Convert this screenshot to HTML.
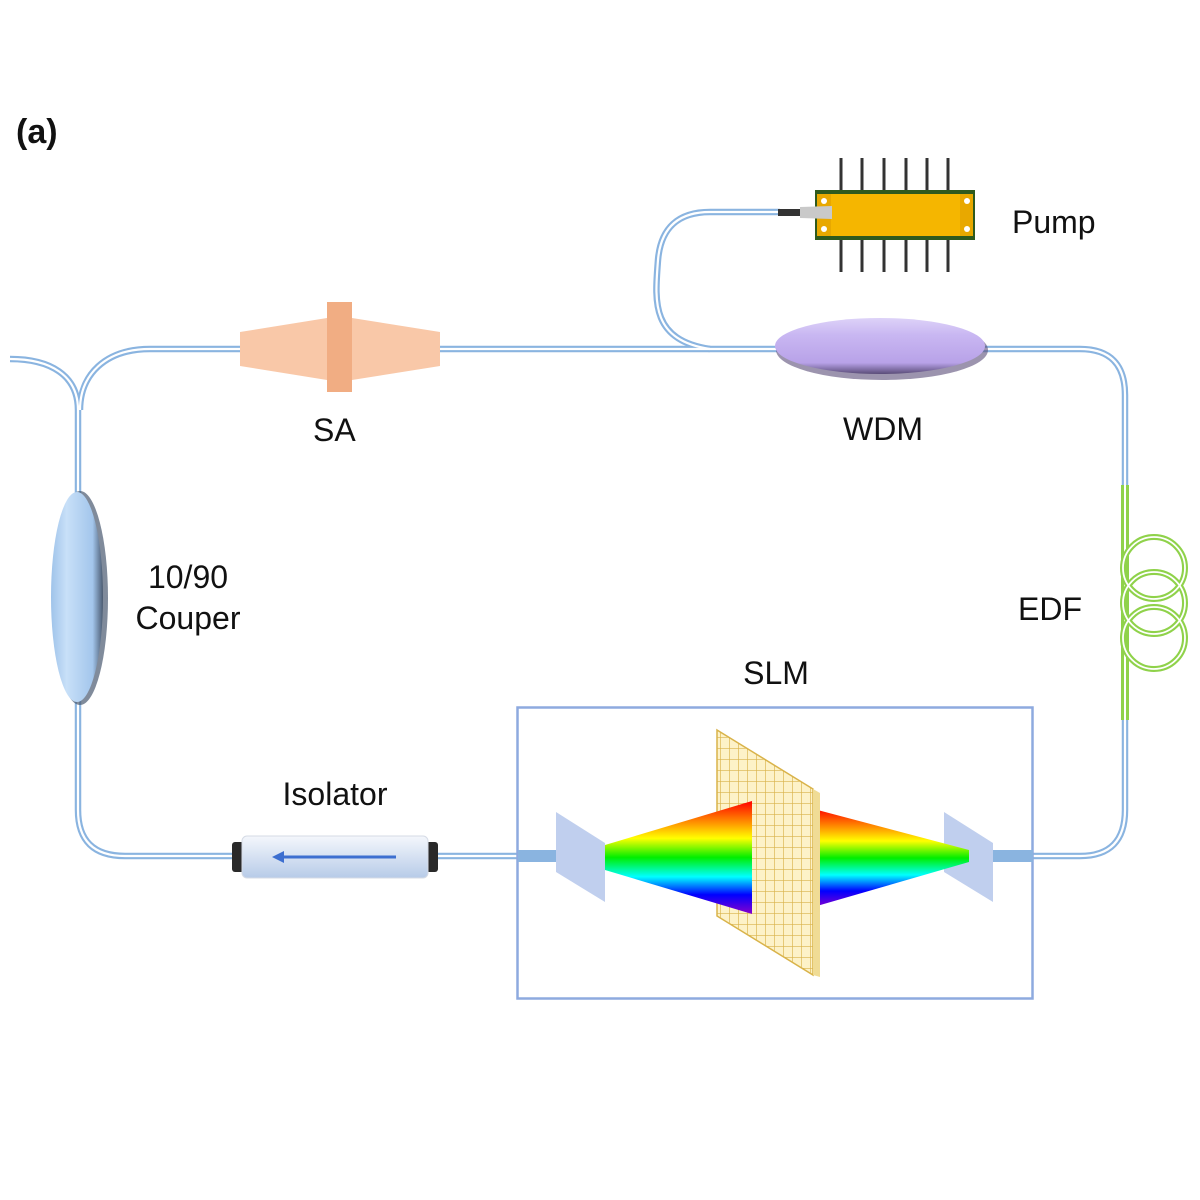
<!DOCTYPE html>
<html><head><meta charset="utf-8"><style>
html,body{margin:0;padding:0;background:#fff;}
svg{display:block;}
text{font-family:"Liberation Sans",Arial,sans-serif;fill:#111;}
</style></head><body>
<svg width="1200" height="1200" viewBox="0 0 1200 1200" xmlns="http://www.w3.org/2000/svg">
<defs>
<linearGradient id="rb" x1="0" y1="0" x2="0" y2="1">
<stop offset="0" stop-color="#ff0000"/><stop offset="0.2" stop-color="#ff9900"/><stop offset="0.33" stop-color="#ffff00"/><stop offset="0.5" stop-color="#00ee00"/><stop offset="0.67" stop-color="#00ffff"/><stop offset="0.83" stop-color="#0000ff"/><stop offset="1" stop-color="#8800cc"/>
</linearGradient>
<linearGradient id="iso" x1="0" y1="0" x2="0" y2="1"><stop offset="0" stop-color="#f4f7fc"/><stop offset="1" stop-color="#b7cbe8"/></linearGradient>
<linearGradient id="cp" x1="0" y1="0" x2="1" y2="0"><stop offset="0" stop-color="#9fc3ea"/><stop offset="0.3" stop-color="#c8e0f8"/><stop offset="0.8" stop-color="#a3c6ec"/><stop offset="1" stop-color="#4a5a70"/></linearGradient>
<linearGradient id="wd" x1="0" y1="0" x2="0" y2="1"><stop offset="0" stop-color="#ddd2f8"/><stop offset="0.3" stop-color="#c9b7f2"/><stop offset="0.8" stop-color="#b8a2e8"/><stop offset="1" stop-color="#5a4c78"/></linearGradient>
<pattern id="grid" width="9" height="11" patternUnits="userSpaceOnUse"><rect width="9" height="11" fill="#fdf2c8"/><path d="M0 0H9M0 0V11" stroke="#d9b34a" stroke-width="1.3"/></pattern>
</defs>

<text x="16" y="143" font-size="34" font-weight="bold">(a)</text>

<g fill="none" stroke-linecap="butt">
<g stroke="#8ab4e0" stroke-width="6.5">
<path d="M10 359 C50 359 78 375 78 410"/>
<path d="M80 410 C80 375 105 349 150 349 L1080 349 Q1125 349 1125 395 L1125 810 Q1125 856 1080 856 L1000 856"/>
<path d="M78 410 L78 810 Q78 856 125 856 L235 856"/>
<path d="M435 856 L520 856"/>
<path d="M710 349 C650 340 655 300 658 260 Q662 212 710 212 L780 212"/>
</g>
<g stroke="#fff" stroke-width="2.2">
<path d="M10 359 C50 359 78 375 78 410"/>
<path d="M80 410 C80 375 105 349 150 349 L1080 349 Q1125 349 1125 395 L1125 810 Q1125 856 1080 856 L1000 856"/>
<path d="M78 410 L78 810 Q78 856 125 856 L235 856"/>
<path d="M435 856 L520 856"/>
<path d="M710 349 C650 340 655 300 658 260 Q662 212 710 212 L780 212"/>
</g>
</g>

<g fill="none">
<rect x="1121" y="485" width="8" height="235" fill="#8fd24a"/>
<rect x="1124" y="485" width="2" height="235" fill="#fff"/>
<g stroke="#8fd24a" stroke-width="6"><circle cx="1154" cy="568" r="31"/><circle cx="1154" cy="603" r="31"/><circle cx="1154" cy="638" r="31"/></g>
<g stroke="#fff" stroke-width="1.8"><circle cx="1154" cy="568" r="31"/><circle cx="1154" cy="603" r="31"/><circle cx="1154" cy="638" r="31"/></g>
</g>
<text x="1018" y="620" font-size="32">EDF</text>

<polygon points="240,332 327,318 327,380 240,366" fill="#f9c8a8"/>
<polygon points="352,318 440,332 440,366 352,380" fill="#f9c8a8"/>
<rect x="327" y="302" width="25" height="90" fill="#f1ad83"/>
<text x="313" y="441" font-size="32">SA</text>

<ellipse cx="882" cy="350" rx="106" ry="30" fill="#5a4c78" opacity="0.6"/>
<ellipse cx="880" cy="346" rx="105" ry="28" fill="url(#wd)"/>
<text x="843" y="440" font-size="32">WDM</text>

<g stroke="#333" stroke-width="3">
<path d="M841 158V192M862 158V192M884 158V192M906 158V192M927 158V192M948 158V192"/>
<path d="M841 236V272M862 236V272M884 236V272M906 236V272M927 236V272M948 236V272"/>
</g>
<rect x="815" y="190" width="160" height="50" fill="#2f5a1e"/>
<rect x="817" y="194" width="156" height="42" fill="#f5b600"/>
<rect x="817" y="194" width="14" height="42" fill="#e8a800"/>
<rect x="960" y="194" width="13" height="42" fill="#e8a800"/>
<circle cx="824" cy="201" r="3" fill="#fff"/><circle cx="824" cy="229" r="3" fill="#fff"/>
<circle cx="967" cy="201" r="3" fill="#fff"/><circle cx="967" cy="229" r="3" fill="#fff"/>
<rect x="778" y="209" width="22" height="7" fill="#333"/>
<polygon points="800,207 832,206 832,219 800,218" fill="#c9c9c9"/>
<text x="1012" y="233" font-size="32">Pump</text>

<ellipse cx="80" cy="598" rx="28" ry="107" fill="#4a5a70" opacity="0.7"/>
<ellipse cx="77" cy="597" rx="26" ry="105" fill="url(#cp)"/>
<text x="188" y="588" font-size="32" text-anchor="middle">10/90</text>
<text x="188" y="629" font-size="32" text-anchor="middle">Couper</text>

<rect x="232" y="842" width="12" height="30" rx="3" fill="#2a2a2a"/>
<rect x="426" y="842" width="12" height="30" rx="3" fill="#2a2a2a"/>
<rect x="242" y="836" width="186" height="42" rx="5" fill="url(#iso)" stroke="#d5dbe5"/>
<line x1="282" y1="857" x2="396" y2="857" stroke="#3d6fd0" stroke-width="3"/>
<polygon points="272,857 284,851 284,863" fill="#3d6fd0"/>
<text x="335" y="805" font-size="32" text-anchor="middle">Isolator</text>

<rect x="517.5" y="707.5" width="515" height="291" fill="none" stroke="#8eaadf" stroke-width="2.5"/>
<text x="776" y="684" font-size="32" text-anchor="middle">SLM</text>
<rect x="518" y="850" width="60" height="12" fill="#8ab4e0"/>
<rect x="978" y="850" width="55" height="12" fill="#8ab4e0"/>
<polygon points="556,812 605,843 605,902 556,872" fill="#c0cfee"/>
<polygon points="944,812 993,843 993,902 944,872" fill="#c0cfee"/>
<polygon points="810,808 969,850 969,862 810,908" fill="url(#rb)"/>
<polygon points="717,730 813,789 813,975 717,916" fill="url(#grid)" stroke="#d9b34a" stroke-width="1.5"/>
<polygon points="813,789 820,793 820,977 813,975" fill="#f0dc95"/>
<polygon points="605,845 752,801 752,914 605,870" fill="url(#rb)"/>
</svg>
</body></html>
